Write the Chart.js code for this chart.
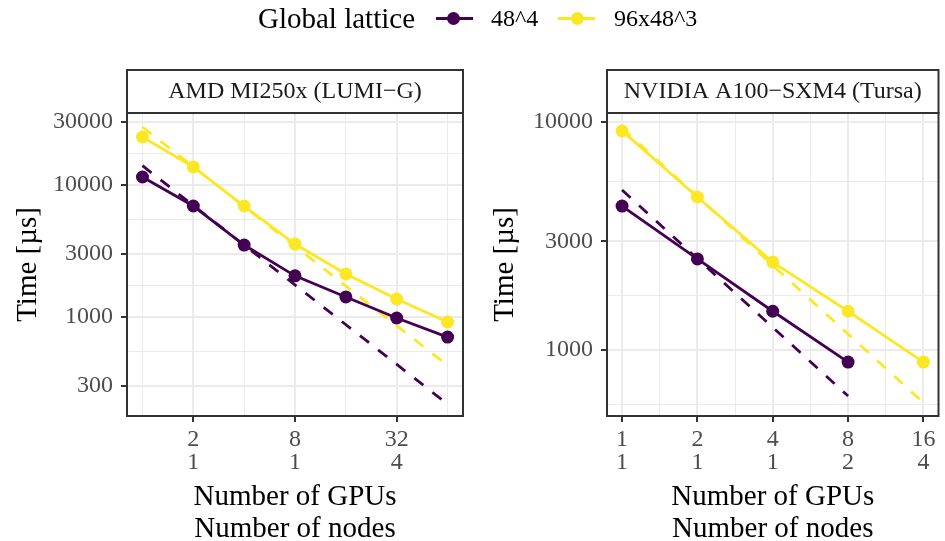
<!DOCTYPE html>
<html>
<head>
<meta charset="utf-8">
<script src="https://cdn.jsdelivr.net/npm/chart.js@4"></script>
<style>
  html, body { margin: 0; padding: 0; background: #fff; }
  #wrap { position: relative; width: 945px; height: 541px; overflow: hidden; font-family: "Liberation Serif", "DejaVu Serif", serif; }
  canvas { position: absolute; top: 0; }
  .lg { position: absolute; white-space: nowrap; color: #000; }
  .ln { position: absolute; height: 3px; }
  .dot { position: absolute; width: 13px; height: 13px; border-radius: 50%; }
</style>
</head>
<body>
<div id="wrap">
  <canvas id="left" width="470" height="541" style="left:0;width:470px;height:541px"></canvas>
  <canvas id="right" width="475" height="541" style="left:470px;width:475px;height:541px"></canvas>

  <div class="lg" style="left:258px;top:2px;font-size:29px;line-height:32px">Global lattice</div>
  <div class="ln" style="left:436px;width:37px;top:17px;background:#440154"></div>
  <div class="dot" style="left:447px;top:12px;background:#440154"></div>
  <div class="lg" style="left:491px;top:5px;font-size:24px;line-height:26px">48^4</div>
  <div class="ln" style="left:558px;width:37px;top:17px;background:#FDE725"></div>
  <div class="dot" style="left:571px;top:12px;background:#FDE725"></div>
  <div class="lg" style="left:614px;top:5px;font-size:24px;line-height:26px">96x48^3</div>
</div>
<script>
// AMD MI250x (LUMI-G)
const leftGpus = [1, 2, 4, 8, 16, 32, 64];
const leftTime48 = [11500, 6930, 3510, 2050, 1420, 983, 705];
const leftTime96 = [23100, 13700, 6930, 3570, 2120, 1370, 917];
const leftIdealGpus = [1, 64];
const leftIdeal48 = [14000, 219];
const leftIdeal96 = [27500, 430];
const leftXTicks = [2, 8, 32];
const leftNodeLabels = ['1', '1', '4'];
const leftXMinor = [1, 4, 16, 64];
const leftYTicks = [300, 1000, 3000, 10000, 30000];
const leftYMinor = [548, 1732, 5477, 17321];

// NVIDIA A100-SXM4 (Tursa)
const rightGpus48 = [1, 2, 4, 8];
const rightTime48 = [4280, 2510, 1480, 886];
const rightGpus96 = [1, 2, 4, 8, 16];
const rightTime96 = [9140, 4690, 2430, 1480, 886];
const rightIdealGpus48 = [1, 8];
const rightIdeal48 = [5030, 629];
const rightIdealGpus96 = [1, 16];
const rightIdeal96 = [9400, 588];
const rightXTicks = [1, 2, 4, 8, 16];
const rightNodeLabels = ['1', '1', '1', '2', '4'];
const rightXMinor = [1.414, 2.828, 5.657, 11.31];
const rightYTicks = [1000, 3000, 10000];
const rightYMinor = [577, 1732, 5477];

const PURPLE = '#440154';
const YELLOW = '#FDE725';
const SERIF = '"Liberation Serif", "DejaVu Serif", serif';

const pts = (xs, ys) => xs.map((x, i) => ({ x: x, y: ys[i] }));

const panelPlugin = {
  id: 'panel',
  afterDraw(chart, args, opts) {
    const { ctx, chartArea: a } = chart;
    ctx.save();
    ctx.strokeStyle = '#333333';
    ctx.lineWidth = 2;
    ctx.strokeRect(a.left, a.top, a.right - a.left, a.bottom - a.top);
    ctx.fillStyle = '#ffffff';
    ctx.fillRect(a.left, 70, a.right - a.left, a.top - 70);
    ctx.strokeRect(a.left, 70, a.right - a.left, a.top - 70);
    ctx.fillStyle = '#1a1a1a';
    ctx.font = '24px ' + SERIF;
    ctx.textAlign = 'center';
    ctx.textBaseline = 'middle';
    ctx.fillText(opts.title, (a.left + a.right) / 2, 92);
    ctx.restore();
  }
};

function makePanel(id, p) {
  const xMajor = new Set(p.xTicks);
  const yMajor = new Set(p.yTicks);
  const isMajor = (set, ctx) => ctx.tick && set.has(ctx.tick.value);
  new Chart(document.getElementById(id), {
    type: 'line',
    data: {
      datasets: [
        { data: p.s96, borderColor: YELLOW, backgroundColor: YELLOW, borderWidth: 2.8, pointRadius: 6.5, pointBorderWidth: 0 },
        { data: p.s48, borderColor: PURPLE, backgroundColor: PURPLE, borderWidth: 2.8, pointRadius: 6.5, pointBorderWidth: 0 },
        { data: p.i96, borderColor: YELLOW, borderWidth: 2.8, borderDash: [11.5, 11.5], pointRadius: 0 },
        { data: p.i48, borderColor: PURPLE, borderWidth: 2.8, borderDash: [11.5, 11.5], pointRadius: 0 }
      ]
    },
    options: {
      responsive: false,
      animation: false,
      events: [],
      layout: { padding: { top: 113, right: p.padRight, left: 0, bottom: 0 } },
      plugins: { legend: { display: false }, tooltip: { enabled: false }, panel: { title: p.title } },
      elements: { line: { tension: 0 } },
      scales: {
        x: {
          type: 'logarithmic',
          min: p.xMin, max: p.xMax,
          afterBuildTicks: s => { s.ticks = p.xTicks.concat(p.xMinor).sort((a, b) => a - b).map(v => ({ value: v })); },
          afterFit: s => { s.height = 125; },
          border: { display: false },
          grid: {
            color: '#ebebeb',
            lineWidth: c => isMajor(xMajor, c) ? 2 : 1,
            tickColor: c => isMajor(xMajor, c) ? '#333333' : 'rgba(0,0,0,0)',
            tickLength: 6,
            tickWidth: 2
          },
          ticks: {
            autoSkip: false, maxRotation: 0, minRotation: 0, padding: 6,
            color: '#4d4d4d', font: { family: SERIF, size: 24, lineHeight: 0.96 },
            callback: v => {
              const k = p.xTicks.indexOf(v);
              return k >= 0 ? [String(v), p.nodes[k]] : '';
            }
          },
          title: {
            display: true, text: ['Number of GPUs', 'Number of nodes'], color: '#000',
            font: { family: SERIF, size: 29, lineHeight: 1.1 }, padding: { top: 0, bottom: -4 }
          }
        },
        y: {
          type: 'logarithmic',
          min: p.yMin, max: p.yMax,
          afterBuildTicks: s => { s.ticks = p.yTicks.concat(p.yMinor).sort((a, b) => a - b).map(v => ({ value: v })); },
          afterFit: s => { s.width = p.yWidth; },
          border: { display: false },
          grid: {
            color: '#ebebeb',
            lineWidth: c => isMajor(yMajor, c) ? 2 : 1,
            tickColor: c => isMajor(yMajor, c) ? '#333333' : 'rgba(0,0,0,0)',
            tickLength: 6,
            tickWidth: 2
          },
          ticks: {
            autoSkip: false, padding: 8,
            color: '#4d4d4d', font: { family: SERIF, size: 24 },
            callback: v => yMajor.has(v) ? String(v) : ''
          },
          title: {
            display: true, text: 'Time [µs]', color: '#000',
            font: { family: SERIF, size: 29, lineHeight: 1.1 }, padding: { top: p.yTitlePad, bottom: 0 }
          }
        }
      }
    },
    plugins: [panelPlugin]
  });
}

makePanel('left', {
  title: 'AMD MI250x (LUMI\u2212G)',
  s48: pts(leftGpus, leftTime48), s96: pts(leftGpus, leftTime96),
  i48: pts(leftIdealGpus, leftIdeal48), i96: pts(leftIdealGpus, leftIdeal96),
  xTicks: leftXTicks, nodes: leftNodeLabels, xMinor: leftXMinor,
  yTicks: leftYTicks, yMinor: leftYMinor,
  xMin: 0.81, xMax: 79, yMin: 178, yMax: 35100,
  yWidth: 127, padRight: 7, yTitlePad: 12
});

makePanel('right', {
  title: 'NVIDIA A100\u2212SXM4 (Tursa)',
  s48: pts(rightGpus48, rightTime48), s96: pts(rightGpus96, rightTime96),
  i48: pts(rightIdealGpus48, rightIdeal48), i96: pts(rightIdealGpus96, rightIdeal96),
  xTicks: rightXTicks, nodes: rightNodeLabels, xMinor: rightXMinor,
  yTicks: rightYTicks, yMinor: rightYMinor,
  xMin: 0.8706, xMax: 18.38, yMin: 514, yMax: 10950,
  yWidth: 137, padRight: 2, yTitlePad: 19
});
</script>
</body>
</html>
